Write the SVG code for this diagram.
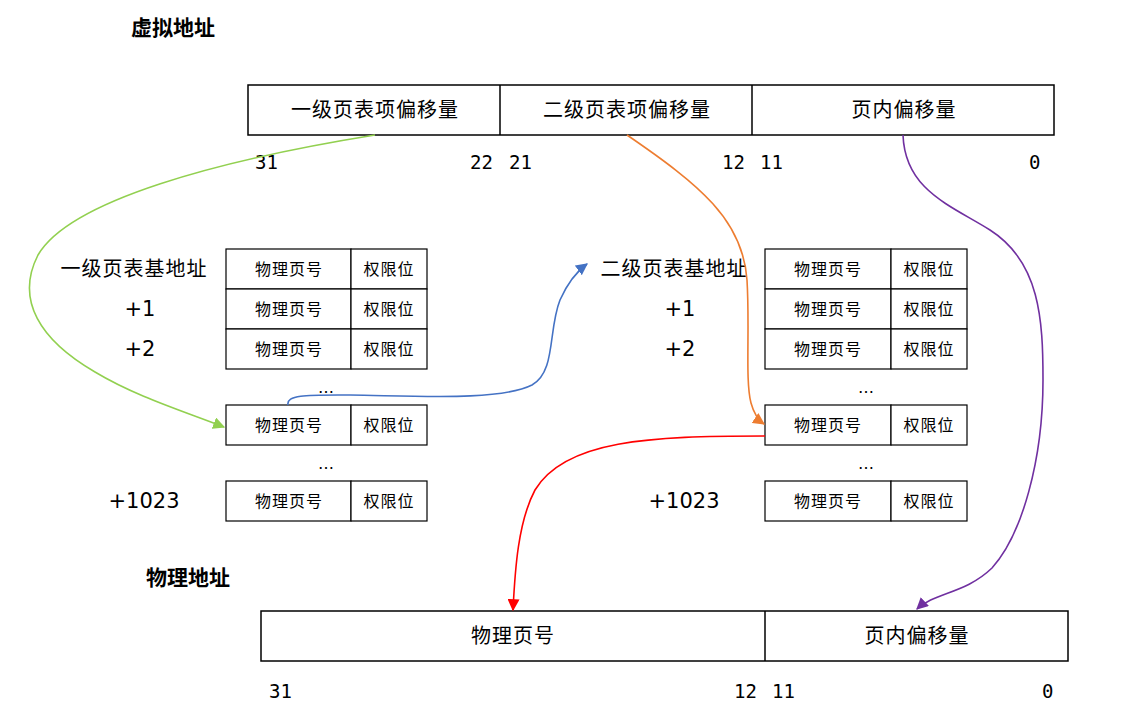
<svg xmlns="http://www.w3.org/2000/svg" width="1137" height="713" viewBox="0 0 1137 713">
<style>
.box{fill:#fff;stroke:#000;stroke-width:1.5}
.cell{fill:#fff;stroke:#000;stroke-width:1.2}
.cn{font-family:"Noto Sans CJK SC","Noto Sans",sans-serif;text-anchor:middle;fill:#000}
.big{font-size:20px;letter-spacing:1px}
.sm{font-size:16px;letter-spacing:1px}
.title{font-family:"Noto Sans CJK SC",sans-serif;font-size:21px;font-weight:bold;fill:#000}
.num{font-family:"DejaVu Sans Mono",monospace;font-size:19px;fill:#000}
.off{font-family:"DejaVu Sans",sans-serif;font-size:21px;text-anchor:middle;fill:#000}
.dots{font-family:"DejaVu Sans",sans-serif;font-size:16px;text-anchor:middle;fill:#000}
.c{fill:none;stroke-width:1.6}
</style>
<defs>
<marker id="mg" viewBox="0 0 10 10" refX="9" refY="5" markerWidth="12" markerHeight="12" orient="auto" markerUnits="userSpaceOnUse"><path d="M0,0L10,5L0,10z" fill="#92D050"/></marker>
<marker id="mb" viewBox="0 0 10 10" refX="9" refY="5" markerWidth="12" markerHeight="12" orient="auto" markerUnits="userSpaceOnUse"><path d="M0,0L10,5L0,10z" fill="#4472C4"/></marker>
<marker id="mo" viewBox="0 0 10 10" refX="9" refY="5" markerWidth="12" markerHeight="12" orient="auto" markerUnits="userSpaceOnUse"><path d="M0,0L10,5L0,10z" fill="#ED7D31"/></marker>
<marker id="mr" viewBox="0 0 10 10" refX="9" refY="5" markerWidth="12" markerHeight="12" orient="auto" markerUnits="userSpaceOnUse"><path d="M0,0L10,5L0,10z" fill="#FF0000"/></marker>
<marker id="mp" viewBox="0 0 10 10" refX="9" refY="5" markerWidth="12" markerHeight="12" orient="auto" markerUnits="userSpaceOnUse"><path d="M0,0L10,5L0,10z" fill="#7030A0"/></marker>
</defs>
<rect width="1137" height="713" fill="#fff"/>

<text class="title" x="131" y="35">虚拟地址</text>
<text class="title" x="146" y="585">物理地址</text>

<g id="vaddr">
<rect class="box" x="248" y="85" width="806" height="50"/>
<line class="box" x1="500" y1="85" x2="500" y2="135"/>
<line class="box" x1="752" y1="85" x2="752" y2="135"/>
<text class="cn big" x="375" y="117">一级页表项偏移量</text>
<text class="cn big" x="627" y="117">二级页表项偏移量</text>
<text class="cn big" x="904" y="117">页内偏移量</text>
<text class="num" x="255" y="169">31</text>
<text class="num" x="470" y="169">22</text>
<text class="num" x="509" y="169">21</text>
<text class="num" x="722" y="169">12</text>
<text class="num" x="760" y="169">11</text>
<text class="num" x="1029" y="169">0</text>
</g>

<g id="table1">
<text class="cn big" x="134" y="276">一级页表基地址</text>
<text class="off" x="140" y="316">+1</text>
<text class="off" x="140" y="356">+2</text>
<text class="off" x="144" y="508">+1023</text>
<g id="t1r0"><rect class="cell" x="226" y="249" width="125" height="40"/><rect class="cell" x="351" y="249" width="76" height="40"/><text class="cn sm" x="289" y="275">物理页号</text><text class="cn sm" x="389" y="275">权限位</text></g>
<g id="t1r1"><rect class="cell" x="226" y="289" width="125" height="40"/><rect class="cell" x="351" y="289" width="76" height="40"/><text class="cn sm" x="289" y="315">物理页号</text><text class="cn sm" x="389" y="315">权限位</text></g>
<g id="t1r2"><rect class="cell" x="226" y="329" width="125" height="40"/><rect class="cell" x="351" y="329" width="76" height="40"/><text class="cn sm" x="289" y="355">物理页号</text><text class="cn sm" x="389" y="355">权限位</text></g>
<text class="dots" x="326" y="393">…</text>
<g id="t1r3"><rect class="cell" x="226" y="405" width="125" height="40"/><rect class="cell" x="351" y="405" width="76" height="40"/><text class="cn sm" x="289" y="431">物理页号</text><text class="cn sm" x="389" y="431">权限位</text></g>
<text class="dots" x="326" y="469">…</text>
<g id="t1r4"><rect class="cell" x="226" y="481" width="125" height="40"/><rect class="cell" x="351" y="481" width="76" height="40"/><text class="cn sm" x="289" y="507">物理页号</text><text class="cn sm" x="389" y="507">权限位</text></g>
</g>

<g id="table2">
<text class="cn big" x="674" y="276">二级页表基地址</text>
<text class="off" x="680" y="316">+1</text>
<text class="off" x="680" y="356">+2</text>
<text class="off" x="684" y="508">+1023</text>
<g id="t2r0"><rect class="cell" x="765" y="249" width="126" height="40"/><rect class="cell" x="891" y="249" width="76" height="40"/><text class="cn sm" x="828" y="275">物理页号</text><text class="cn sm" x="929" y="275">权限位</text></g>
<g id="t2r1"><rect class="cell" x="765" y="289" width="126" height="40"/><rect class="cell" x="891" y="289" width="76" height="40"/><text class="cn sm" x="828" y="315">物理页号</text><text class="cn sm" x="929" y="315">权限位</text></g>
<g id="t2r2"><rect class="cell" x="765" y="329" width="126" height="40"/><rect class="cell" x="891" y="329" width="76" height="40"/><text class="cn sm" x="828" y="355">物理页号</text><text class="cn sm" x="929" y="355">权限位</text></g>
<text class="dots" x="866" y="393">…</text>
<g id="t2r3"><rect class="cell" x="765" y="405" width="126" height="40"/><rect class="cell" x="891" y="405" width="76" height="40"/><text class="cn sm" x="828" y="431">物理页号</text><text class="cn sm" x="929" y="431">权限位</text></g>
<text class="dots" x="866" y="469">…</text>
<g id="t2r4"><rect class="cell" x="765" y="481" width="126" height="40"/><rect class="cell" x="891" y="481" width="76" height="40"/><text class="cn sm" x="828" y="507">物理页号</text><text class="cn sm" x="929" y="507">权限位</text></g>
</g>

<g id="paddr">
<rect class="box" x="261" y="611" width="807" height="50"/>
<line class="box" x1="765" y1="611" x2="765" y2="661"/>
<text class="cn big" x="513" y="643">物理页号</text>
<text class="cn big" x="917" y="643">页内偏移量</text>
<text class="num" x="269" y="698">31</text>
<text class="num" x="734" y="698">12</text>
<text class="num" x="772" y="698">11</text>
<text class="num" x="1042" y="698">0</text>
</g>

<g id="connectors">
<path class="c" stroke="#92D050" marker-end="url(#mg)" d="M375,135 C220,160 70,200 38,255 C15,300 40,340 95,372 C135,396 180,410 224,427"/>
<path class="c" stroke="#4472C4" marker-end="url(#mb)" d="M288,405 C286,394 310,395 350,395 C420,396 500,401 532,385 C556,372 548,330 560,300 C568,282 576,272 587,264"/>
<path class="c" stroke="#ED7D31" marker-end="url(#mo)" d="M627,135 C700,185 743,220 747,280 C750,330 745,380 751,403 C754,414 758,420 764,424"/>
<path class="c" stroke="#FF0000" marker-end="url(#mr)" d="M765,436 C650,436 565,440 535,490 C518,522 515,570 513,610"/>
<path class="c" stroke="#7030A0" marker-end="url(#mp)" d="M903,135 C905,190 950,205 990,230 C1040,262 1043,320 1043,380 C1043,460 1022,535 992,568 C965,594 935,592 917,609"/>
</g>
</svg>
